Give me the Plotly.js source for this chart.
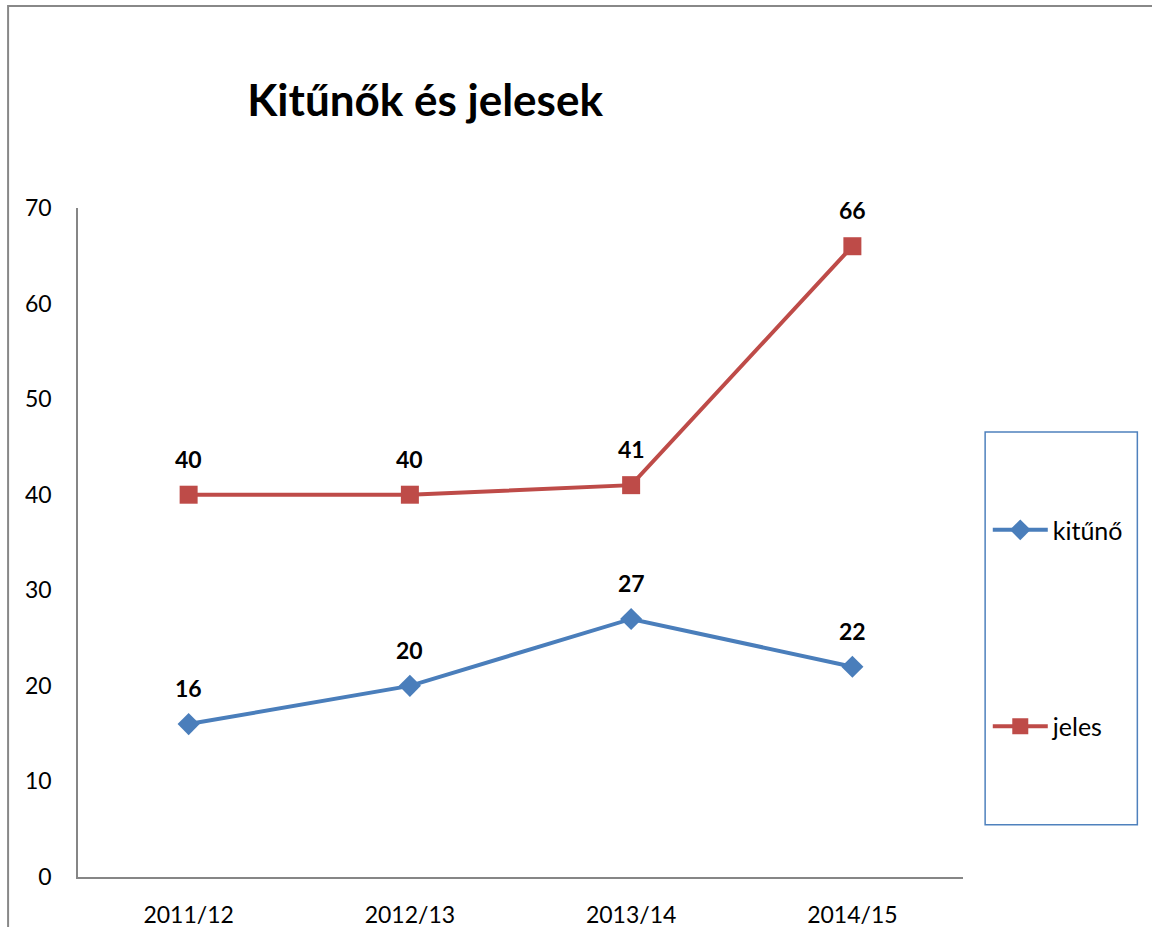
<!DOCTYPE html>
<html>
<head>
<meta charset="utf-8">
<script src="https://cdn.plot.ly/plotly-3.0.1.min.js"></script>
<style>
  body { margin: 0; background: #fff; }
  #plot { width: 1152px; height: 927px; }
</style>
</head>
<body>
<div id="plot"></div>
<script>
// tanévek és a két sorozat
let years = ["2011/12", "2012/13", "2013/14", "2014/15"];
let kitunoVals = [16, 20, 27, 22];
let jelesVals = [40, 40, 41, 66];
let yTicks = [0, 10, 20, 30, 40, 50, 60, 70];

let fontFam = "Lato, 'Open Sans', sans-serif";
let blue = "#4A7EBB";
let red = "#BE4B48";

var data = [{
  x: years,
  y: kitunoVals,
  name: "kitűnő",
  legendgroup: "a",
  mode: "lines+markers",
  type: "scatter",
  line: { color: blue, width: 4 },
  marker: { symbol: "diamond", size: 17, color: blue }
}, {
  x: years,
  y: jelesVals,
  name: "jeles",
  legendgroup: "b",
  mode: "lines+markers",
  type: "scatter",
  line: { color: red, width: 4 },
  marker: { symbol: "square", size: 18, color: red }
}];

// adatfeliratok a pontok fölé
let annots = [];
[kitunoVals, jelesVals].forEach(vals => {
  vals.forEach((v, i) => {
    annots.push({
      x: years[i], y: v, text: "<b>" + v + "</b>",
      showarrow: false, yshift: 36,
      font: { size: 23, color: "#000", family: fontFam }
    });
  });
});

var layout = {
  width: 1152,
  height: 927,
  margin: { l: 78, r: 189, t: 208, b: 50 },
  paper_bgcolor: "#fff",
  plot_bgcolor: "#fff",
  font: { family: fontFam, size: 23, color: "#000" },
  title: {
    text: "<b>Kitűnők és jelesek</b>",
    font: { size: 44, family: fontFam, color: "#000" },
    x: 0.369, xanchor: "center",
    y: 0.892, yanchor: "middle"
  },
  xaxis: {
    type: "category",
    range: [-0.5, 3.5],
    showline: true, linecolor: "#868686", linewidth: 1.5,
    showgrid: false, zeroline: false, ticks: "",
    ticklabelstandoff: 17,
    tickfont: { size: 23 }
  },
  yaxis: {
    range: [0, 70],
    tickvals: yTicks,
    showline: true, linecolor: "#868686", linewidth: 1.5,
    showgrid: false, zeroline: false, ticks: "",
    ticklabelstandoff: 20,
    tickfont: { size: 23 }
  },
  showlegend: true,
  legend: {
    x: 1.028, xanchor: "left",
    y: 0.553, yanchor: "top",
    traceorder: "grouped",
    tracegroupgap: 161,
    itemwidth: 55,
    font: { size: 25 },
    bgcolor: "rgba(0,0,0,0)"
  },
  annotations: annots,
  shapes: [
    // jelmagyarázat kerete
    { type: "rect", xref: "paper", yref: "paper",
      x0: 1.025, x1: 1.197, y0: 0.078, y1: 0.665,
      line: { color: "#4F81BD", width: 1.5 } },
    // külső keret
    { type: "rect", xref: "paper", yref: "paper",
      x0: -0.079, x1: 1.4, y0: -0.2, y1: 1.302,
      line: { color: "#888888", width: 2 } }
  ]
};

Plotly.newPlot("plot", data, layout, { displayModeBar: false });
</script>
</body>
</html>
